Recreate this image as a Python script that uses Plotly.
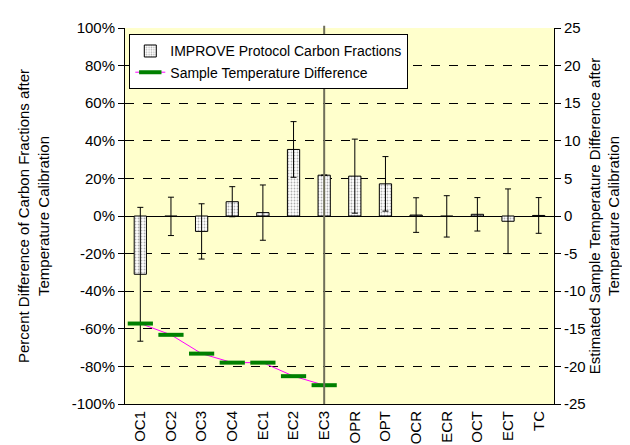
import plotly.graph_objects as go

categories = ["OC1", "OC2", "OC3", "OC4", "EC1", "EC2", "EC3",
              "OPR", "OPT", "OCR", "ECR", "OCT", "ECT", "TC"]
pct_diff = [-31.0, -0.2, -8.2, 7.6, 1.8, 35.4, 21.7,
            21.2, 17.1, 0.5, -0.2, 0.9, -2.8, 0.3]
pct_err = [35.6, 10.2, 14.7, 8.0, 14.7, 14.8, 0.0,
           19.7, 14.5, 9.2, 11.0, 8.9, 17.2, 9.5]
temp_categories = ["OC1", "OC2", "OC3", "OC4", "EC1", "EC2", "EC3"]
temp_diff = [-14.3, -15.8, -18.3, -19.5, -19.5, -21.3, -22.5]

left_ticks = list(range(-100, 101, 20))
left_ticktext = [f"{v}%" for v in left_ticks]
right_ticks = list(range(-25, 26, 5))
right_ticktext = [str(v) for v in right_ticks]

FONT = "Liberation Sans, Arial, sans-serif"
FS = 15

fig = go.Figure()

fig.add_trace(go.Bar(
    x=categories, y=pct_diff,
    name="IMPROVE Protocol Carbon Fractions",
    width=0.4,
    marker=dict(
        color="white",
        line=dict(color="black", width=1),
        pattern=dict(shape=".", fgcolor="#606060", bgcolor="white",
                     size=3, solidity=0.3),
    ),
    error_y=dict(type="data", array=pct_err, visible=True,
                 color="black", thickness=1, width=3),
    yaxis="y",
))

fig.add_trace(go.Scatter(
    x=temp_categories, y=temp_diff,
    name="Sample Temperature Difference",
    mode="lines+markers",
    line=dict(color="#FF00FF", width=1),
    marker=dict(symbol="line-ew", size=18,
                line=dict(color="#008000", width=4), color="#008000"),
    yaxis="y2",
))

ec3_idx = categories.index("EC3")
fig.add_shape(type="line", xref="x", yref="paper",
              x0=ec3_idx, x1=ec3_idx, y0=0, y1=1.006,
              line=dict(color="#6f6f5a", width=2), layer="above")

fig.update_layout(
    width=630, height=445,
    margin=dict(l=117, r=84, t=20, b=49, autoexpand=False),
    paper_bgcolor="white",
    plot_bgcolor="#FFFFCC",
    font=dict(family=FONT, size=FS, color="black"),
    xaxis=dict(
        type="category", categoryorder="array", categoryarray=categories,
        range=[-0.5, len(categories) - 0.5], automargin=False,
        showline=True, linecolor="black", linewidth=1,
        ticks="", tickangle=-90, showgrid=False, zeroline=False,
        tickfont=dict(size=FS),
    ),
    xaxis2=dict(
        overlaying="x", anchor="free", position=0.5, side="bottom",
        range=[-0.5, len(categories) - 0.5], automargin=False,
        tickmode="array",
        tickvals=[i + 0.5 for i in range(len(categories) - 1)],
        ticks="inside", ticklen=5, tickcolor="black",
        showticklabels=False, showline=False, showgrid=False, zeroline=False,
    ),
    yaxis=dict(
        range=[-100, 100], tickmode="array", automargin=False,
        tickvals=left_ticks, ticktext=left_ticktext,
        showline=True, linecolor="black", linewidth=1,
        ticks="outside", ticklen=6, tickcolor="black",
        showgrid=True, gridcolor="black", gridwidth=1, griddash="dash",
        zeroline=True, zerolinecolor="black", zerolinewidth=1,
        title=dict(text="Percent Difference of Carbon Fractions after<br>Temperature Calibration",
                   font=dict(size=FS), standoff=18),
        tickfont=dict(size=FS),
    ),
    yaxis2=dict(
        overlaying="y", side="right", anchor="x", automargin=False,
        range=[-25, 25], tickmode="array",
        tickvals=right_ticks, ticktext=right_ticktext,
        showline=True, linecolor="black", linewidth=1,
        ticks="outside", ticklen=6, tickcolor="black",
        showgrid=False, zeroline=False,
        title=dict(text="Estimated Sample Temperature Difference after<br>Temperature Calibration",
                   font=dict(size=FS), standoff=4),
        tickfont=dict(size=FS),
    ),
    showlegend=True,
    legend=dict(
        x=0.01, y=0.983, xanchor="left", yanchor="top",
        bgcolor="white", bordercolor="black", borderwidth=1,
        font=dict(size=14), tracegroupgap=0,
    ),
)

fig.write_html("out.html")
